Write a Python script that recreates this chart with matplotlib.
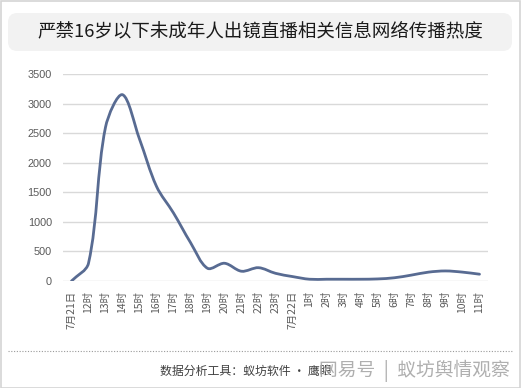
import matplotlib
matplotlib.use("Agg")
import matplotlib.pyplot as plt
from matplotlib.patches import FancyBboxPatch, Rectangle, PathPatch
from matplotlib.path import Path
from matplotlib.lines import Line2D
import numpy as np

plt.rcParams['font.family'] = ['Noto Sans CJK SC', 'DejaVu Sans']

title = "严禁16岁以下未成年人出镜直播相关信息网络传播热度"
categories = ["7月21日", "12时", "13时", "14时", "15时", "16时", "17时", "18时",
              "19时", "20时", "21时", "22时", "23时", "7月22日", "1时", "2时",
              "3时", "4时", "5时", "6时", "7时", "8时", "9时", "10时", "11时"]
values = [0, 300, 2600, 3150, 2400, 1600, 1150, 650, 215, 300, 165, 225, 130,
          75, 30, 30, 30, 30, 35, 55, 100, 150, 170, 150, 115]
yticks = [0, 500, 1000, 1500, 2000, 2500, 3000, 3500]
footer = "数据分析工具：蚁坊软件 · 鹰眼"
watermark = "网易号  |  蚁坊舆情观察"

W, H = 521, 388
fig = plt.figure(figsize=(W / 100, H / 100), dpi=100)
fig.patch.set_facecolor("white")

# outer border
fig.patches.append(Rectangle((0.5 / W, 0.5 / H), 1 - 1.5 / W, 1 - 1.5 / H,
                             transform=fig.transFigure, fill=False,
                             edgecolor="#d4d4d4", linewidth=1.2))
# title box
x0, x1, yt, yb = 8, 512, 13, 51
fig.patches.append(FancyBboxPatch((x0 / W, 1 - yb / H), (x1 - x0) / W, (yb - yt) / H,
                                  boxstyle="round,pad=0,rounding_size=0.018",
                                  transform=fig.transFigure, facecolor="#f2f2f2",
                                  edgecolor="none", mutation_aspect=W / H))
fig.text(260 / W, 1 - 31.5 / H, title, ha="center", va="center",
         fontsize=13.3, color="#1a1a1a")

ax = fig.add_axes([63 / W, 1 - 281 / H, (488 - 63) / W, (281 - 74) / H])
ax.set_xlim(-0.5, len(categories) - 0.5)
ax.set_ylim(0, 3500)
for s in ax.spines.values():
    s.set_visible(False)
ax.set_yticks(yticks)
ax.set_yticklabels([str(v) for v in yticks], fontsize=7.8, color="#595959",
                   family=["Liberation Sans", "DejaVu Sans"])
ax.tick_params(axis="y", length=0, pad=8)
ax.grid(axis="y", color="#d9d9d9", linewidth=1)
ax.set_axisbelow(True)
ax.set_xticks(range(len(categories)))
ax.set_xticklabels(categories, rotation=90, fontsize=7.5, color="#595959",
                   va="top", ha="center")
ax.tick_params(axis="x", length=0, pad=7)

# smoothed line: Bezier with control points scaled by neighbouring segment
# lengths in screen space (spreadsheet-style smoothing, no overshoot at kinks)
fig.canvas.draw()
P = ax.transData.transform(np.column_stack([np.arange(len(values)), values]).astype(float))
n = len(P)
t = 1.0 / 3.0
cin = [None] * n
cout = [None] * n
for i in range(n):
    if i == 0:
        cout[i] = P[0] + (P[1] - P[0]) / 3.0
        continue
    if i == n - 1:
        cin[i] = P[i] - (P[i] - P[i - 1]) / 3.0
        continue
    d = P[i + 1] - P[i - 1]
    l1 = np.linalg.norm(P[i] - P[i - 1])
    l2 = np.linalg.norm(P[i + 1] - P[i])
    s = l1 + l2
    cout[i] = P[i] + d * (l2 / s) * t
    cin[i] = P[i] - d * (l1 / s) * t
verts = [P[0]]
codes = [Path.MOVETO]
for i in range(n - 1):
    verts += [cout[i], cin[i + 1], P[i + 1]]
    codes += [Path.CURVE4] * 3
inv = ax.transData.inverted()
verts = inv.transform(np.array(verts))
ax.add_patch(PathPatch(Path(verts, codes), facecolor="none", edgecolor="#586b92",
                       linewidth=2.0, capstyle="round", joinstyle="round", zorder=3))

# dotted separator
fig.lines.append(Line2D([8 / W, 513 / W], [1 - 351 / H, 1 - 351 / H],
                        transform=fig.transFigure, color="#9a9a9a",
                        linewidth=0.8, linestyle=(0, (1, 1.5))))
fig.text(160 / W, 1 - 371 / H, footer, ha="left", va="center",
         fontsize=8.6, color="#404040")
fig.text(510 / W, 1 - 371 / H, watermark, ha="right", va="center",
         fontsize=13.5, color="#a6a6a6", alpha=0.9)

fig.savefig("out.png", dpi=100, facecolor="white")
